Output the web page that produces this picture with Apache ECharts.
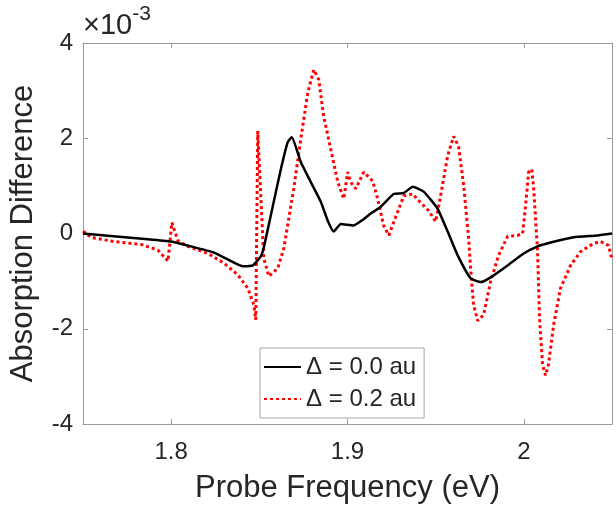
<!DOCTYPE html>
<html>
<head>
<meta charset="utf-8">
<script src="https://cdn.jsdelivr.net/npm/echarts@6/dist/echarts.min.js"></script>
<style>
  html, body { margin: 0; padding: 0; background: #fff; }
  #chart { width: 616px; height: 509px; }
</style>
</head>
<body>
<div id="chart"></div>
<script>
// values in units of 1e-3
const xTicks = [1.8, 1.9, 2];
const yTicks = [-4, -2, 0, 2, 4];

const blackFreq = [1.750, 1.7868, 1.7999, 1.8112, 1.8242, 1.8339, 1.8407, 1.8463, 1.8508, 1.8525,
  1.8565, 1.8622, 1.8661, 1.8684, 1.8735, 1.8792, 1.8848, 1.8888, 1.8922, 1.8962,
  1.9035, 1.9092, 1.9132, 1.9188, 1.9262, 1.9319, 1.9370, 1.9432, 1.9511, 1.9568,
  1.9625, 1.9698, 1.9755, 1.9812, 1.9908, 1.9999, 2.0078, 2.0152, 2.0282, 2.0418, 2.0500];
const blackVals = [0.0, -0.12, -0.17, -0.27, -0.40, -0.58, -0.69, -0.67, -0.48, -0.30,
  0.38, 1.35, 1.92, 2.02, 1.50, 1.08, 0.67, 0.27, 0.04, 0.20,
  0.17, 0.30, 0.42, 0.56, 0.83, 0.85, 0.98, 0.88, 0.52, 0.04,
  -0.46, -0.94, -1.02, -0.92, -0.67, -0.42, -0.27, -0.19, -0.08, -0.04, 0.0];

const redFreq = [1.7500, 1.7545, 1.7676, 1.7829, 1.7925, 1.7982, 1.8004, 1.8038, 1.8095, 1.8208,
  1.8299, 1.8378, 1.8435, 1.8469, 1.8480, 1.8491, 1.8525, 1.8554, 1.8605, 1.8639,
  1.8695, 1.8735, 1.8775, 1.8809, 1.8837, 1.8865, 1.8905, 1.8945, 1.8979, 1.9001,
  1.9018, 1.9047, 1.9092, 1.9143, 1.9171, 1.9205, 1.9234, 1.9285, 1.9319, 1.9370,
  1.9404, 1.9460, 1.9500, 1.9528, 1.9568, 1.9602, 1.9630, 1.9659, 1.9687, 1.9698,
  1.9715, 1.9738, 1.9772, 1.9812, 1.9857, 1.9908, 1.9965, 1.9993, 2.0010, 2.0027,
  2.0044, 2.0055, 2.0078, 2.0089, 2.0106, 2.0123, 2.0140, 2.0169, 2.0208, 2.0265,
  2.0322, 2.0395, 2.0435, 2.0480, 2.0500];
const redVals = [0.05, -0.08, -0.17, -0.23, -0.35, -0.58, 0.23, -0.15, -0.27, -0.42,
  -0.62, -0.87, -1.15, -1.50, -1.81, 2.15, -0.52, -0.90, -0.73, -0.31,
  0.94, 1.98, 2.96, 3.44, 3.23, 2.46, 1.77, 1.08, 0.73, 1.29,
  1.08, 0.94, 1.29, 1.10, 0.73, 0.17, -0.04, 0.46, 0.79, 0.83,
  0.69, 0.48, 0.25, 0.79, 1.63, 2.04, 1.83, 1.00, -0.10, -0.73,
  -1.50, -1.83, -1.71, -1.00, -0.46, -0.06, -0.04, 0.00, 0.58, 1.29,
  1.35, 1.00, -0.38, -1.77, -2.75, -2.98, -2.75, -1.92, -1.15, -0.67,
  -0.38, -0.21, -0.17, -0.25, -0.55];

const FONT = '"Liberation Sans", Arial, Helvetica, sans-serif';
const AXIS_GRAY = '#9a9a9a';
const TEXT = '#262626';

const pairs = (xs, ys) => xs.map((x, i) => [x, ys[i]]);

const tickStyle = {
  show: true, inside: true, length: 5,
  lineStyle: { color: AXIS_GRAY, width: 1 }
};
const axisLine = { show: true, onZero: false, lineStyle: { color: AXIS_GRAY, width: 1 } };

const chart = echarts.init(document.getElementById('chart'));
chart.setOption({
  animation: false,
  textStyle: { fontFamily: FONT },
  grid: { left: 81, right: 4, top: 43, bottom: 82 },
  legend: {
    left: 260, top: 348,
    orient: 'vertical',
    padding: [7, 8, 7, 3],
    itemGap: 8,
    itemWidth: 37, itemHeight: 14,
    borderColor: '#a6a6a6', borderWidth: 1,
    backgroundColor: '#fff',
    itemStyle: { opacity: 0 },
    textStyle: { fontSize: 24, color: TEXT, fontFamily: FONT },
    data: ['Δ = 0.0 au', 'Δ = 0.2 au']
  },
  xAxis: [
    {
      type: 'value', min: 1.75, max: 2.05, position: 'bottom',
      name: 'Probe Frequency (eV)', nameLocation: 'middle', nameGap: 49,
      nameTextStyle: { fontSize: 31, color: TEXT, fontFamily: FONT },
      axisLine: axisLine,
      axisTick: Object.assign({ customValues: xTicks }, tickStyle),
      axisLabel: { customValues: xTicks, fontSize: 24, color: TEXT, margin: 16 },
      splitLine: { show: false }
    },
    {
      type: 'value', min: 1.75, max: 2.05, position: 'top',
      axisLine: axisLine,
      axisTick: Object.assign({ customValues: xTicks }, tickStyle),
      axisLabel: { show: false },
      splitLine: { show: false }
    }
  ],
  yAxis: [
    {
      type: 'value', min: -4, max: 4, position: 'left',
      name: 'Absorption Difference', nameLocation: 'middle', nameGap: 44,
      nameTextStyle: { fontSize: 31, color: TEXT, fontFamily: FONT },
      axisLine: axisLine,
      axisTick: Object.assign({ customValues: yTicks }, tickStyle),
      axisLabel: { customValues: yTicks, fontSize: 24, color: TEXT, margin: 10 },
      splitLine: { show: false }
    },
    {
      type: 'value', min: -4, max: 4, position: 'right',
      axisLine: axisLine,
      axisTick: Object.assign({ customValues: yTicks }, tickStyle),
      axisLabel: { show: false },
      splitLine: { show: false }
    }
  ],
  graphic: [{
    type: 'text', left: 83, top: 4,
    style: {
      text: '{a|×10}{b|-3}',
      rich: {
        a: { fontSize: 29, fill: TEXT, fontFamily: FONT, verticalAlign: 'bottom', lineHeight: 36 },
        b: { fontSize: 21, fill: TEXT, fontFamily: FONT, verticalAlign: 'top', lineHeight: 36, padding: [0, 0, 14, 0] }
      }
    }
  }],
  series: [
    {
      name: 'Δ = 0.0 au',
      type: 'line',
      data: pairs(blackFreq, blackVals),
      symbol: 'none',
      smooth: 0.15,
      lineStyle: { color: '#000', width: 2.5 },
      itemStyle: { color: '#000' },
      z: 3
    },
    {
      name: 'Δ = 0.2 au',
      type: 'line',
      data: pairs(redFreq, redVals),
      symbol: 'none',
      lineStyle: { color: '#ff0000', width: 3, type: [3, 3] },
      itemStyle: { color: '#ff0000' },
      z: 2
    }
  ]
});
</script>
</body>
</html>
